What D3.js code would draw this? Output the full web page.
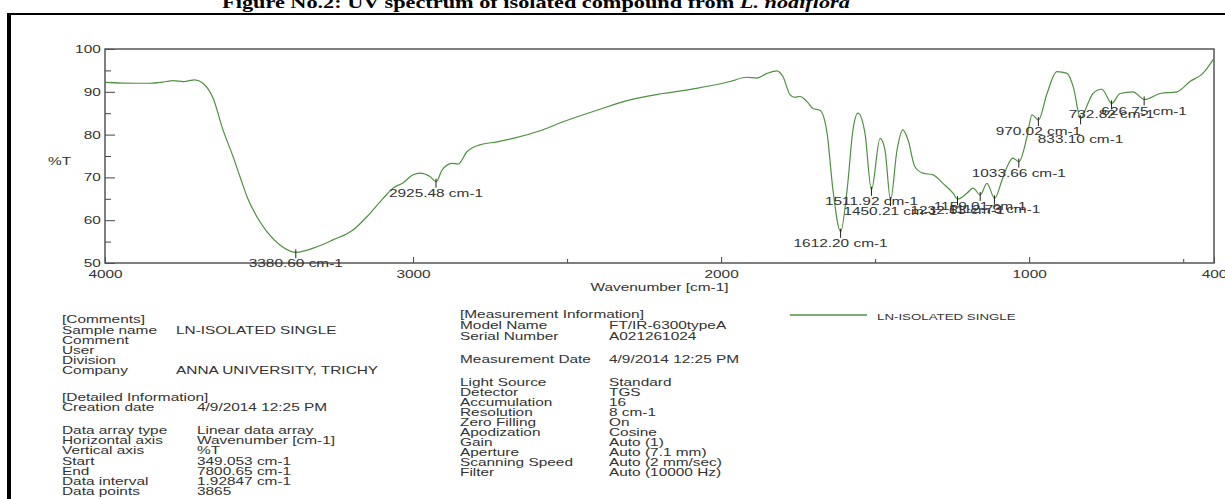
<!DOCTYPE html>
<html>
<head>
<meta charset="utf-8">
<script src="https://cdn.jsdelivr.net/npm/d3@7"></script>
<style>
  body { margin: 0; background: #fff; }
  svg { display: block; font-family: "Liberation Sans", Arial, sans-serif; }
</style>
</head>
<body>
<div id="viz"></div>
<script>
// spectrum trace: wavenumber (cm-1) and %T
const wavenumber = [4000, 3900, 3854, 3800, 3779, 3745, 3708, 3682, 3649, 3617, 3584, 3562, 3539, 3507, 3474, 3432, 3381,
  3312, 3260, 3195, 3150, 3097, 3065, 3033, 3000, 2977, 2945, 2925, 2906, 2874, 2854, 2825, 2783, 2727, 2675, 2588,
  2513, 2403, 2296, 2189, 2080, 1971, 1917, 1884, 1851, 1819, 1799, 1776, 1760, 1744, 1721, 1702, 1679, 1656, 1637,
  1612, 1591, 1572, 1556, 1533, 1512, 1484, 1468, 1450, 1429, 1410, 1393, 1371, 1345, 1312, 1280, 1247, 1232, 1202,
  1182, 1159, 1137, 1112, 1088, 1069, 1053, 1033, 1007, 991, 970, 942, 910, 877, 857, 833, 809, 793, 764, 732, 705,
  663, 626, 575, 520, 478, 436, 400];
const transmittance = [92.2, 92.0, 92.0, 92.4, 92.6, 92.4, 92.8, 92.0, 88.5, 81.1, 74.8, 70.2, 65.5, 60.8, 57.3, 54.2, 52.5,
  53.8, 55.4, 57.7, 60.8, 65.1, 67.5, 68.7, 70.6, 71.0, 70.2, 69.0, 71.7, 73.3, 73.1, 76.0, 77.6, 78.3, 79.1, 80.9,
  83.0, 85.7, 88.1, 89.6, 90.8, 92.4, 93.4, 93.2, 94.3, 94.9, 93.5, 89.3, 88.7, 88.9, 87.7, 86.1, 85.7, 80.3, 67.1,
  57.3, 67.1, 81.1, 85.0, 80.3, 67.1, 79.1, 76.4, 64.7, 76.4, 81.1, 78.7, 72.5, 71.0, 70.6, 68.6, 66.3, 64.9, 66.3,
  67.5, 65.9, 68.6, 65.1, 69.4, 72.9, 74.5, 73.7, 79.5, 84.6, 83.4, 89.6, 94.7, 94.3, 91.2, 83.8, 87.3, 89.6, 90.6, 87.3, 89.6,
  90.0, 88.2, 89.6, 90.0, 92.4, 94.3, 97.8];

// picked peaks
const peakWn = [3380.60, 2925.48, 1612.20, 1511.92, 1450.21, 1232.63, 1159.01, 1112.73, 1033.66, 970.02, 833.10, 732.82, 626.75];
const peakT = [52.5, 69.0, 57.3, 67.1, 64.7, 64.9, 65.9, 65.1, 73.7, 83.4, 83.8, 87.3, 88.2];

const xTicks = [4000, 3000, 2000, 1000, 400];
const xMinorTicks = [2500, 1500, 500];
const yTicks = [50, 60, 70, 80, 90, 100];
const yMinorTicks = [55, 65, 75, 85, 95];

const title = "Figure No.2: UV spectrum of isolated compound from ";
const titleItalic = "L. nodiflora";
const seriesName = "LN-ISOLATED SINGLE";

const commentRows = [["Sample name", "LN-ISOLATED SINGLE"], ["Comment", ""], ["User", ""], ["Division", ""],
  ["Company", "ANNA UNIVERSITY, TRICHY"]];
const detailRows = [["Creation date", "4/9/2014 12:25 PM"]];
const dataRows = [["Data array type", "Linear data array"], ["Horizontal axis", "Wavenumber [cm-1]"],
  ["Vertical axis", "%T"], ["Start", "349.053 cm-1"], ["End", "7800.65 cm-1"], ["Data interval", "1.92847 cm-1"],
  ["Data points", "3865"]];
const modelRows = [["Model Name", "FT/IR-6300typeA"], ["Serial Number", "A021261024"]];
const dateRows = [["Measurement Date", "4/9/2014 12:25 PM"]];
const settingRows = [["Light Source", "Standard"], ["Detector", "TGS"], ["Accumulation", "16"],
  ["Resolution", "8 cm-1"], ["Zero Filling", "On"], ["Apodization", "Cosine"], ["Gain", "Auto (1)"],
  ["Aperture", "Auto (7.1 mm)"], ["Scanning Speed", "Auto (2 mm/sec)"], ["Filter", "Auto (10000 Hz)"]];

const W = 1225, H = 499;
const SX = 1.4;          // the scan is stretched sideways
const ink = "#333";
const green = "#4f9141";
const plot = {left: 105, right: 1214, top: 49, bottom: 263};

const svg = d3.select("#viz").append("svg")
  .attr("width", W)
  .attr("height", H);

function stext(g, x, y, s, anchor, size) {
  return g.append("text")
    .attr("transform", `translate(${x},${y}) scale(${SX},1)`)
    .attr("text-anchor", anchor || "start")
    .attr("font-size", size || 11)
    .attr("fill", ink)
    .text(s);
}

// title, cut off by the page top
const t = svg.append("text")
  .attr("transform", `translate(536,8) scale(1.35,1)`)
  .attr("text-anchor", "middle")
  .attr("font-family", "'Liberation Serif', 'Times New Roman', serif")
  .attr("font-weight", "bold")
  .attr("font-size", 16.5)
  .attr("fill", "#000")
  .text(title);
t.append("tspan").attr("font-style", "italic").text(titleItalic);

// page frame
svg.append("line").attr("x1", 9).attr("x2", W + 5).attr("y1", 14).attr("y2", 14)
  .attr("stroke", "#000").attr("stroke-width", 2);
svg.append("line").attr("x1", 9).attr("x2", 9).attr("y1", 13).attr("y2", H + 5)
  .attr("stroke", "#000").attr("stroke-width", 4);

const x = d3.scaleLinear().domain([4000, 400]).range([plot.left, plot.right]);
const y = d3.scaleLinear().domain([50, 100]).range([plot.bottom, plot.top]);

// axes
svg.append("g")
  .attr("transform", `translate(0,${plot.bottom})`)
  .call(d3.axisBottom(x).tickValues(xTicks).tickSize(-6).tickPadding(7).tickFormat(d3.format("d")));
svg.append("g")
  .attr("transform", `translate(0,${plot.bottom})`)
  .call(d3.axisBottom(x).tickValues(xMinorTicks).tickSize(-4).tickFormat(""));
svg.append("g")
  .attr("transform", `translate(${plot.left},0)`)
  .call(d3.axisLeft(y).tickValues(yTicks).tickSize(-10).tickPadding(3).tickFormat(d3.format("d")));
svg.append("g")
  .attr("transform", `translate(${plot.left},0)`)
  .call(d3.axisLeft(y).tickValues(yMinorTicks).tickSize(-6).tickFormat(""));

svg.selectAll(".domain").remove();
svg.selectAll(".tick line").attr("stroke", "#444").attr("stroke-width", 1);
svg.selectAll(".tick text")
  .attr("font-size", 11)
  .attr("font-family", "'Liberation Sans', Arial, sans-serif")
  .attr("fill", ink)
  .attr("transform", `scale(${SX},1)`);

svg.append("rect")
  .attr("x", plot.left).attr("y", plot.top)
  .attr("width", plot.right - plot.left).attr("height", plot.bottom - plot.top)
  .attr("fill", "none").attr("stroke", "#555").attr("stroke-width", 1.5);

stext(svg, 48, 165, "%T");
stext(svg, (plot.left + plot.right) / 2, 291, "Wavenumber [cm-1]", "middle");

// spectrum
const pts = wavenumber.map((w, i) => [w, transmittance[i]]);
svg.append("path")
  .datum(pts)
  .attr("fill", "none")
  .attr("stroke", green)
  .attr("stroke-width", 1.2)
  .attr("d", d3.line().x(d => x(d[0])).y(d => y(d[1])).curve(d3.curveMonotoneX));

// peak marks and labels (the instrument lets them overlap)
const pushedDown = new Set([833.10]);
peakWn.forEach((w, i) => {
  const px = x(w), py = y(peakT[i]);
  svg.append("line")
    .attr("x1", px).attr("x2", px).attr("y1", py - 3).attr("y2", py + 6)
    .attr("stroke", "#222").attr("stroke-width", 1);
  const dy = pushedDown.has(w) ? 25 : 15;
  stext(svg, px, py + dy, w.toFixed(2) + " cm-1", "middle");
});

// legend
svg.append("line").attr("x1", 790).attr("x2", 867).attr("y1", 315).attr("y2", 315)
  .attr("stroke", green).attr("stroke-width", 1.3);
stext(svg, 877, 319.5, seriesName, "start", 9.5);

// info block
function rows(list, x1, x2, y0, step) {
  list.forEach((r, i) => {
    stext(svg, x1, y0 + i * step, r[0]);
    if (r[1]) stext(svg, x2, y0 + i * step, r[1]);
  });
}
stext(svg, 62, 323, "[Comments]");
rows(commentRows, 62, 176, 334, 9.9);
stext(svg, 62, 401, "[Detailed Information]");
rows(detailRows, 62, 197, 411, 10);
rows(dataRows, 62, 197, 434, 10.2);

stext(svg, 460, 318, "[Measurement Information]");
rows(modelRows, 460, 609, 329, 10.5);
rows(dateRows, 460, 609, 363, 10);
rows(settingRows, 460, 609, 386, 10);
</script>
</body>
</html>
